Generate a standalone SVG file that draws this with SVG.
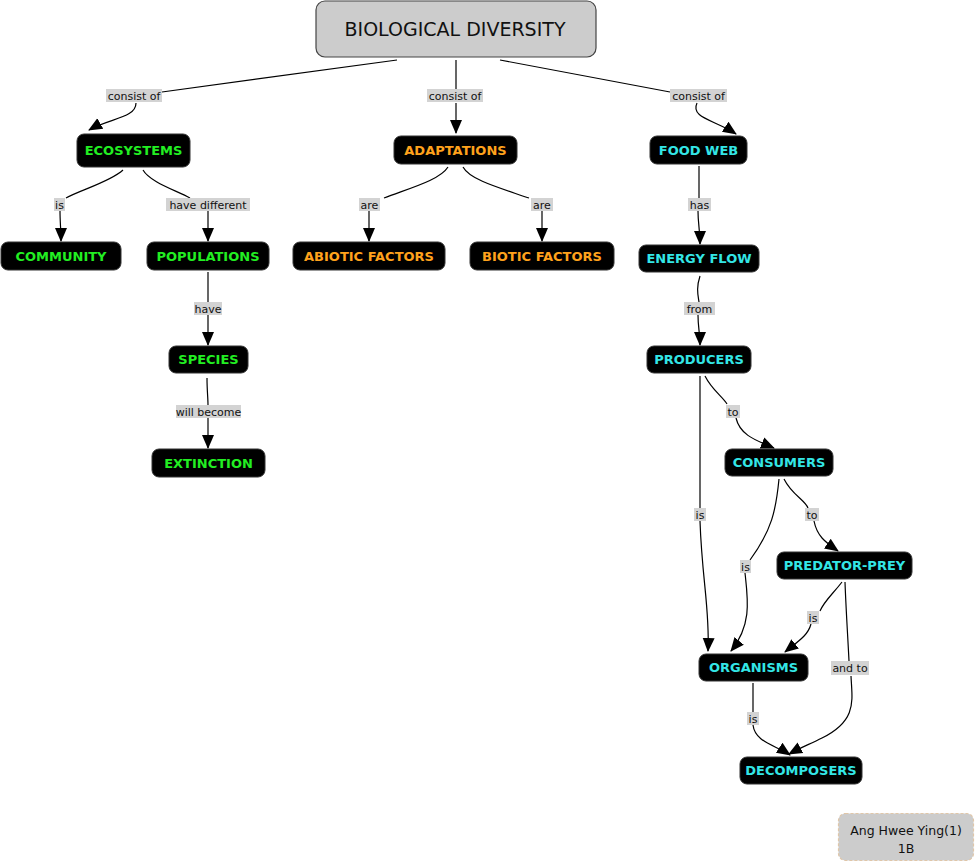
<svg xmlns="http://www.w3.org/2000/svg" width="976" height="864" viewBox="0 0 976 864">
<style>
.n rect{fill:#000;stroke:#333;stroke-width:1}
.n text{font-family:"Comic Sans MS","DejaVu Sans",sans-serif;font-weight:bold;font-size:13px;text-anchor:middle}
.g text{fill:#22ee22}
.o text{fill:#ffa21c}
.c text{fill:#33e6e6}
.lb rect{fill:#d3d3d3}
.lb text{font-family:"DejaVu Sans",sans-serif;font-size:11px;fill:#111;text-anchor:middle}
.e path{fill:none;stroke:#000;stroke-width:1.2}
.e path.a{marker-end:url(#ah)}
</style>
<defs>
<marker id="ah" markerUnits="userSpaceOnUse" markerWidth="14" markerHeight="14" viewBox="0 0 14 14" refX="13" refY="7" orient="auto">
<path d="M0,1 L14,7 L0,13 Z" fill="#000"/>
</marker>
</defs>
<rect width="976" height="864" fill="#fff"/>

<g id="edges" class="e">
<path d="M397,60 L162,92"/>
<path class="a" d="M136,103 C136,118 110,118 89,130"/>
<path d="M456,60 L456,89"/>
<path class="a" d="M456,103 L456,133"/>
<path d="M500,60 L670,92"/>
<path class="a" d="M697,103 C690,118 715,120 736,134"/>
<path d="M123,170 C110,182 80,190 66,198"/>
<path class="a" d="M60,211 C60,222 61,230 61,241"/>
<path d="M143,170 C150,182 175,190 190,198"/>
<path class="a" d="M208,211 L208,241"/>
<path d="M208,272 L208,302"/>
<path class="a" d="M208,315 L208,345"/>
<path d="M207,378 C207,390 208,398 208,405"/>
<path class="a" d="M208,418 L208,448"/>
<path d="M448,167 C440,180 410,188 384,198"/>
<path class="a" d="M369,211 L369,241"/>
<path d="M463,167 C470,180 500,188 529,198"/>
<path class="a" d="M542,211 L542,241"/>
<path d="M699,166 L699,198"/>
<path class="a" d="M698,211 C698,224 700,230 700,244"/>
<path d="M700,276 C696,288 698,295 699,302"/>
<path class="a" d="M698,315 C698,328 700,333 700,345"/>
<path d="M705,376 C712,390 722,396 727,404"/>
<path class="a" d="M736,418 C740,435 755,440 774,448"/>
<path d="M700,376 L700,508"/>
<path class="a" d="M700,521 C702,580 710,610 708,651"/>
<path d="M779,479 C776,510 772,530 750,560"/>
<path class="a" d="M745,573 C748,600 752,625 731,651"/>
<path d="M784,479 C792,495 805,500 808,508"/>
<path class="a" d="M814,521 C817,536 825,542 838,551"/>
<path d="M842,582 C832,595 825,600 820,611"/>
<path class="a" d="M811,624 C808,635 800,640 785,652"/>
<path d="M845,582 C846,610 848,640 849,661"/>
<path class="a" d="M851,676 C852,700 858,720 822,738 C810,744 800,748 789,754"/>
<path d="M753,683 L753,712"/>
<path class="a" d="M753,725 C755,742 775,745 790,755"/>
</g>

<g id="lbls" class="lb">
<g><rect x="106" y="89" width="56" height="13"/><text x="134" y="99.5">consist of</text></g>
<g><rect x="427" y="89" width="56" height="13"/><text x="455" y="99.5">consist of</text></g>
<g><rect x="670" y="89" width="57" height="13"/><text x="698.5" y="99.5">consist of</text></g>
<g><rect x="54" y="198" width="11" height="13"/><text x="59.5" y="208.5">is</text></g>
<g><rect x="166" y="198" width="84" height="13"/><text x="208" y="208.5">have different</text></g>
<g><rect x="194" y="302" width="28" height="13"/><text x="208" y="312.5">have</text></g>
<g><rect x="176" y="405" width="65" height="13"/><text x="208.5" y="415.5">will become</text></g>
<g><rect x="359" y="198" width="21" height="13"/><text x="369.5" y="208.5">are</text></g>
<g><rect x="531" y="198" width="22" height="13"/><text x="542" y="208.5">are</text></g>
<g><rect x="688" y="198" width="23" height="13"/><text x="699.5" y="208.5">has</text></g>
<g><rect x="684" y="302" width="31" height="13"/><text x="699.5" y="312.5">from</text></g>
<g><rect x="726" y="405" width="14" height="13"/><text x="733" y="415.5">to</text></g>
<g><rect x="694" y="508" width="12" height="13"/><text x="700" y="518.5">is</text></g>
<g><rect x="805" y="508" width="14" height="13"/><text x="812" y="518.5">to</text></g>
<g><rect x="740" y="560" width="11" height="13"/><text x="745.5" y="570.5">is</text></g>
<g><rect x="807" y="611" width="12" height="13"/><text x="813" y="621.5">is</text></g>
<g><rect x="831" y="661" width="38" height="14"/><text x="850" y="672">and to</text></g>
<g><rect x="747" y="712" width="12" height="13"/><text x="753" y="722.5">is</text></g>
</g>

<g id="title">
<rect x="316" y="1" width="280" height="56" rx="9" fill="#cccccc" stroke="#444" stroke-width="1.2"/>
<text x="455" y="36" font-family="'Comic Sans MS','DejaVu Sans',sans-serif" font-size="19" fill="#111" text-anchor="middle">BIOLOGICAL DIVERSITY</text>
</g>

<g id="ecosystems" class="n g"><rect x="77" y="134" width="113" height="33" rx="7"/><text x="133.5" y="155">ECOSYSTEMS</text></g>
<g id="community" class="n g"><rect x="1" y="242" width="120" height="28" rx="7"/><text x="61" y="261">COMMUNITY</text></g>
<g id="populations" class="n g"><rect x="147" y="242" width="122" height="28" rx="7"/><text x="208" y="261">POPULATIONS</text></g>
<g id="species" class="n g"><rect x="169" y="346" width="79" height="27" rx="7"/><text x="208.5" y="364">SPECIES</text></g>
<g id="extinction" class="n g"><rect x="152" y="449" width="113" height="28" rx="7"/><text x="208.5" y="468">EXTINCTION</text></g>
<g id="adaptations" class="n o"><rect x="394" y="136" width="123" height="28" rx="7"/><text x="455.5" y="155">ADAPTATIONS</text></g>
<g id="abiotic" class="n o"><rect x="293" y="242" width="152" height="28" rx="7"/><text x="369" y="261">ABIOTIC FACTORS</text></g>
<g id="biotic" class="n o"><rect x="470" y="242" width="144" height="28" rx="7"/><text x="542" y="261">BIOTIC FACTORS</text></g>
<g id="foodweb" class="n c"><rect x="650" y="136" width="97" height="28" rx="7"/><text x="698.5" y="155">FOOD WEB</text></g>
<g id="energyflow" class="n c"><rect x="639" y="245" width="120" height="27" rx="7"/><text x="699" y="263">ENERGY FLOW</text></g>
<g id="producers" class="n c"><rect x="647" y="346" width="104" height="27" rx="7"/><text x="699" y="364">PRODUCERS</text></g>
<g id="consumers" class="n c"><rect x="725" y="449" width="108" height="27" rx="7"/><text x="779" y="467">CONSUMERS</text></g>
<g id="predatorprey" class="n c"><rect x="777" y="552" width="135" height="27" rx="7"/><text x="844.5" y="570">PREDATOR-PREY</text></g>
<g id="organisms" class="n c"><rect x="699" y="654" width="109" height="27" rx="7"/><text x="753.5" y="672">ORGANISMS</text></g>
<g id="decomposers" class="n c"><rect x="740" y="757" width="122" height="27" rx="7"/><text x="801" y="775">DECOMPOSERS</text></g>

<g id="author">
<rect x="838.5" y="813.5" width="135" height="47" rx="7" fill="#cccccc" stroke="#e0c6a8" stroke-width="1.2" stroke-dasharray="3,2"/>
<text x="906" y="835" font-family="'Comic Sans MS','DejaVu Sans',sans-serif" font-size="12.5" fill="#111" text-anchor="middle">Ang Hwee Ying(1)</text>
<text x="906" y="853" font-family="'Comic Sans MS','DejaVu Sans',sans-serif" font-size="12.5" fill="#111" text-anchor="middle">1B</text>
</g>
</svg>
